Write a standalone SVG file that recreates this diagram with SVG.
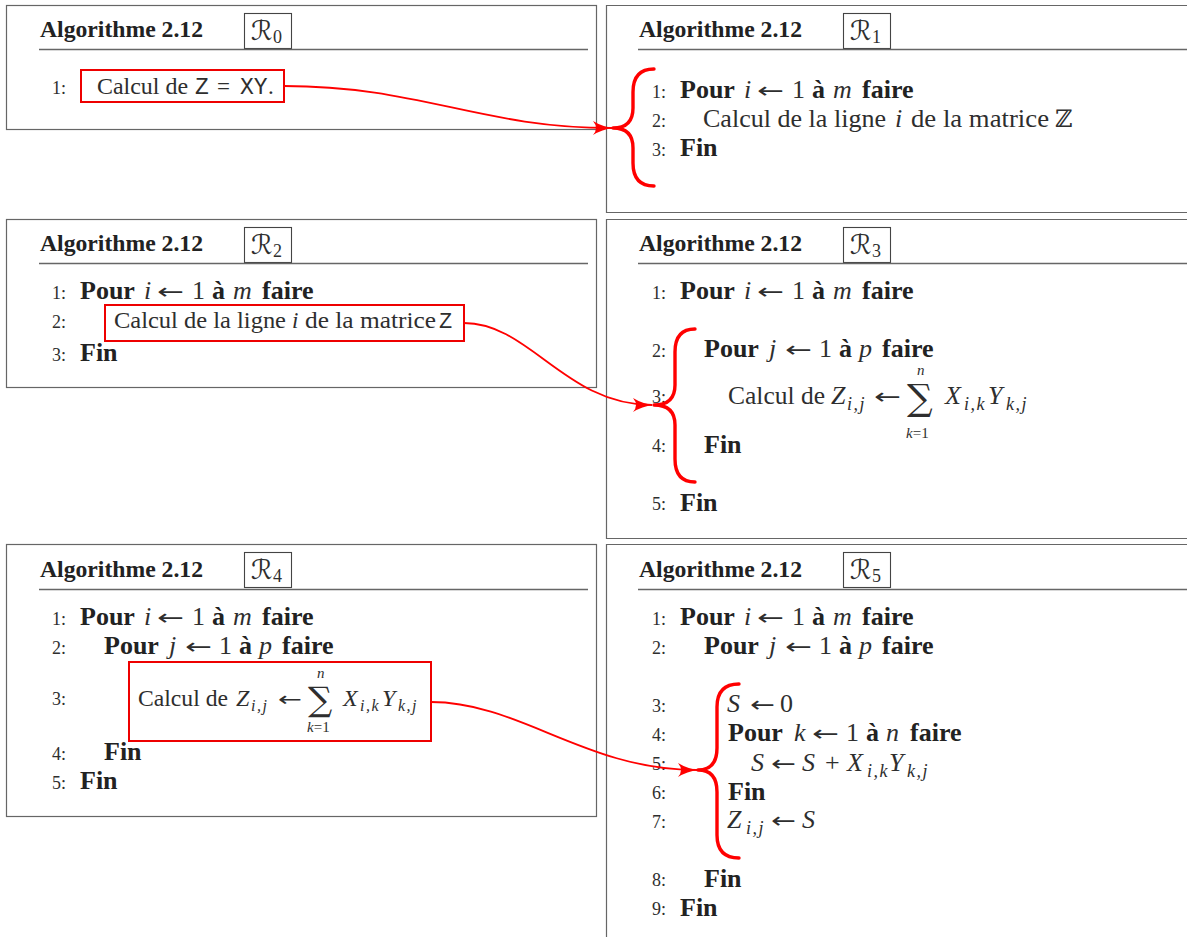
<svg xmlns="http://www.w3.org/2000/svg" width="1187" height="937" viewBox="0 0 1187 937">
<style>
  .frame{fill:none;stroke:#666;stroke-width:1.2}
  .rule{stroke:#666;stroke-width:1.3}
  .rbox{fill:none;stroke:#444;stroke-width:1.1}
  .hl{fill:none;stroke:#e00;stroke-width:2}
  .brace{fill:none;stroke:#f00;stroke-width:3.4;stroke-linecap:round;stroke-linejoin:round}
  .conn{fill:none;stroke:#f00;stroke-width:1.8}
  text{font-family:"Liberation Serif","DejaVu Serif",serif;fill:#2e2e2e;font-size:26px}
  .title{font-size:24px;font-weight:bold;fill:#222}
  .cal{font-family:"DejaVu Serif","DejaVu Sans",serif;font-size:27px}
  .rs{font-size:18px}
  .num{font-size:18px}
  .b{font-weight:bold;fill:#222}
  .i{font-style:italic}
  .sub{font-size:18px;font-style:italic;letter-spacing:1.5px}
  .sub2{font-size:16px;font-style:italic;letter-spacing:1.5px}
  .lim{font-size:15px}
  .tt{font-family:"Liberation Mono",monospace}
  .arr{font-family:"DejaVu Sans",sans-serif;font-size:22px}
  .sum{font-family:"DejaVu Serif",serif;font-size:36px}
</style>
<defs>
  <marker id="ah" viewBox="0 0 20 14" refX="19" refY="7" markerWidth="20" markerHeight="14" markerUnits="userSpaceOnUse" orient="auto">
    <path d="M0,0 Q9,5.5 20,7 Q9,8.5 0,14 Q6,7 0,0 Z" fill="#f00"/>
  </marker>
</defs>

<g id="R0">
  <rect class="frame" x="6.5" y="5.5" width="590" height="124"/>
  <text class="title" x="40" y="37" textLength="163" lengthAdjust="spacingAndGlyphs">Algorithme 2.12</text>
  <rect class="rbox" x="244.5" y="13.5" width="47" height="35"/>
  <text class="cal" x="251" y="40">ℛ</text><text class="rs" x="273" y="43">0</text>
  <line class="rule" x1="39" y1="49.5" x2="588" y2="49.5"/>
  <text class="num" x="52" y="94">1:</text>
  <rect class="hl" x="81" y="70" width="203" height="32"/>
  <text x="97" y="94" style="font-size:23px" textLength="91" lengthAdjust="spacingAndGlyphs">Calcul de</text>
  <text class="tt" x="195" y="94" style="font-size:23px">Z</text>
  <text x="217" y="94" style="font-size:23px">=</text>
  <text class="tt" x="240" y="94" style="font-size:23px">XY</text>
  <text x="268" y="94" style="font-size:23px">.</text>
</g>

<g id="R1">
  <path class="frame" d="M1187,5.5 H606.5 V212.5 H1187"/>
  <text class="title" x="639" y="37" textLength="163" lengthAdjust="spacingAndGlyphs">Algorithme 2.12</text>
  <rect class="rbox" x="843.5" y="13.5" width="47" height="35"/>
  <text class="cal" x="850" y="40">ℛ</text><text class="rs" x="872" y="43">1</text>
  <line class="rule" x1="638" y1="49.5" x2="1187" y2="49.5"/>
  <text class="num" x="652" y="98">1:</text>
  <text class="b" x="680" y="98">Pour</text><text class="i" x="744" y="98">i</text><text class="arr" x="757" y="98" textLength="27" lengthAdjust="spacingAndGlyphs">←</text><text x="792" y="98">1</text><text class="b" x="812" y="98">à</text><text class="i" x="833" y="98">m</text><text class="b" x="862" y="98">faire</text>
  <text class="num" x="652" y="127">2:</text>
  <text x="703" y="127" textLength="183" lengthAdjust="spacingAndGlyphs">Calcul de la ligne</text><text class="i" x="895" y="127">i</text><text x="911" y="127" textLength="138" lengthAdjust="spacingAndGlyphs">de la matrice</text><text x="1055" y="127" style="font-family:'DejaVu Serif',serif;font-size:24px">ℤ</text>
  <text class="num" x="652" y="156">3:</text>
  <text class="b" x="680" y="156">Fin</text>
  <path class="brace" d="M654,69 Q633,69 633,92 L633,108 Q633,128 613,128 Q633,128 633,148 L633,163 Q633,186 654,186"/>
</g>

<g id="R2">
  <rect class="frame" x="6.5" y="219.5" width="590" height="168"/>
  <text class="title" x="40" y="251" textLength="163" lengthAdjust="spacingAndGlyphs">Algorithme 2.12</text>
  <rect class="rbox" x="244.5" y="227.5" width="47" height="35"/>
  <text class="cal" x="251" y="254">ℛ</text><text class="rs" x="273" y="257">2</text>
  <line class="rule" x1="39" y1="263.5" x2="588" y2="263.5"/>
  <text class="num" x="52" y="299">1:</text>
  <text class="b" x="80" y="299">Pour</text><text class="i" x="144" y="299">i</text><text class="arr" x="157" y="299" textLength="27" lengthAdjust="spacingAndGlyphs">←</text><text x="192" y="299">1</text><text class="b" x="212" y="299">à</text><text class="i" x="233" y="299">m</text><text class="b" x="262" y="299">faire</text>
  <text class="num" x="52" y="328">2:</text>
  <rect class="hl" x="105" y="305" width="359" height="36"/>
  <text x="114" y="328" style="font-size:23px" textLength="172" lengthAdjust="spacingAndGlyphs">Calcul de la ligne</text><text class="i" x="292" y="328" style="font-size:23px">i</text><text x="305" y="328" style="font-size:23px" textLength="131" lengthAdjust="spacingAndGlyphs">de la matrice</text><text class="tt" x="439" y="328" style="font-size:22px">Z</text>
  <text class="num" x="52" y="361">3:</text>
  <text class="b" x="80" y="361">Fin</text>
</g>

<g id="R3">
  <path class="frame" d="M1187,219.5 H606.5 V538.5 H1187"/>
  <text class="title" x="639" y="251" textLength="163" lengthAdjust="spacingAndGlyphs">Algorithme 2.12</text>
  <rect class="rbox" x="843.5" y="227.5" width="47" height="35"/>
  <text class="cal" x="850" y="254">ℛ</text><text class="rs" x="872" y="257">3</text>
  <line class="rule" x1="638" y1="263.5" x2="1187" y2="263.5"/>
  <text class="num" x="652" y="299">1:</text>
  <text class="b" x="680" y="299">Pour</text><text class="i" x="744" y="299">i</text><text class="arr" x="757" y="299" textLength="27" lengthAdjust="spacingAndGlyphs">←</text><text x="792" y="299">1</text><text class="b" x="812" y="299">à</text><text class="i" x="833" y="299">m</text><text class="b" x="862" y="299">faire</text>
  <text class="num" x="652" y="357">2:</text>
  <text class="b" x="704" y="357">Pour</text><text class="i" x="769" y="357">j</text><text class="arr" x="785" y="357" textLength="27" lengthAdjust="spacingAndGlyphs">←</text><text x="819" y="357">1</text><text class="b" x="839" y="357">à</text><text class="i" x="859" y="357">p</text><text class="b" x="882" y="357">faire</text>
  <text class="num" x="652" y="403">3:</text>
  <text x="728" y="404" textLength="97" lengthAdjust="spacingAndGlyphs">Calcul de</text><text class="i" x="831" y="404">Z</text><text class="sub" x="847" y="410">i,j</text>
  <text class="arr" x="874" y="404" textLength="27" lengthAdjust="spacingAndGlyphs">←</text>
  <text class="sum" x="907" y="410">∑</text>
  <text class="lim i" x="917" y="375">n</text>
  <text class="lim" x="906" y="438"><tspan class="i">k</tspan>=1</text>
  <text class="i" x="945" y="404">X</text><text class="sub" x="964" y="410">i,k</text><text class="i" x="988" y="404">Y</text><text class="sub" x="1006" y="410">k,j</text>
  <text class="num" x="652" y="452">4:</text>
  <text class="b" x="704" y="453">Fin</text>
  <text class="num" x="652" y="510">5:</text>
  <text class="b" x="680" y="511">Fin</text>
  <path class="brace" d="M695,329 Q675,329 675,352 L675,385 Q675,405 654,405 Q675,405 675,425 L675,459 Q675,482 695,482"/>
</g>

<g id="R4">
  <rect class="frame" x="6.5" y="544.5" width="590" height="272"/>
  <text class="title" x="40" y="577" textLength="163" lengthAdjust="spacingAndGlyphs">Algorithme 2.12</text>
  <rect class="rbox" x="244.5" y="552.5" width="47" height="35"/>
  <text class="cal" x="251" y="579">ℛ</text><text class="rs" x="273" y="582">4</text>
  <line class="rule" x1="39" y1="589.5" x2="588" y2="589.5"/>
  <text class="num" x="52" y="625">1:</text>
  <text class="b" x="80" y="625">Pour</text><text class="i" x="144" y="625">i</text><text class="arr" x="157" y="625" textLength="27" lengthAdjust="spacingAndGlyphs">←</text><text x="192" y="625">1</text><text class="b" x="212" y="625">à</text><text class="i" x="233" y="625">m</text><text class="b" x="262" y="625">faire</text>
  <text class="num" x="52" y="654">2:</text>
  <text class="b" x="104" y="654">Pour</text><text class="i" x="169" y="654">j</text><text class="arr" x="185" y="654" textLength="27" lengthAdjust="spacingAndGlyphs">←</text><text x="219" y="654">1</text><text class="b" x="239" y="654">à</text><text class="i" x="259" y="654">p</text><text class="b" x="282" y="654">faire</text>
  <text class="num" x="52" y="705">3:</text>
  <rect class="hl" x="129" y="662" width="302" height="79"/>
  <text x="138" y="706" style="font-size:24px" textLength="90" lengthAdjust="spacingAndGlyphs">Calcul de</text><text class="i" x="236" y="706" style="font-size:24px">Z</text><text class="sub2" x="251" y="711">i,j</text>
  <text class="arr" x="278" y="706" style="font-size:20px" textLength="24" lengthAdjust="spacingAndGlyphs">←</text>
  <text class="sum" x="308" y="711" style="font-size:34px">∑</text>
  <text class="lim i" x="317" y="678">n</text>
  <text class="lim" x="307" y="732"><tspan class="i">k</tspan>=1</text>
  <text class="i" x="343" y="706" style="font-size:24px">X</text><text class="sub2" x="360" y="711">i,k</text><text class="i" x="382" y="706" style="font-size:24px">Y</text><text class="sub2" x="398" y="711">k,j</text>
  <text class="num" x="52" y="760">4:</text>
  <text class="b" x="104" y="760">Fin</text>
  <text class="num" x="52" y="789">5:</text>
  <text class="b" x="80" y="789">Fin</text>
</g>

<g id="R5">
  <path class="frame" d="M1187,544.5 H606.5 V937"/>
  <text class="title" x="639" y="577" textLength="163" lengthAdjust="spacingAndGlyphs">Algorithme 2.12</text>
  <rect class="rbox" x="843.5" y="552.5" width="47" height="35"/>
  <text class="cal" x="850" y="579">ℛ</text><text class="rs" x="872" y="582">5</text>
  <line class="rule" x1="638" y1="589.5" x2="1187" y2="589.5"/>
  <text class="num" x="652" y="625">1:</text>
  <text class="b" x="680" y="625">Pour</text><text class="i" x="744" y="625">i</text><text class="arr" x="757" y="625" textLength="27" lengthAdjust="spacingAndGlyphs">←</text><text x="792" y="625">1</text><text class="b" x="812" y="625">à</text><text class="i" x="833" y="625">m</text><text class="b" x="862" y="625">faire</text>
  <text class="num" x="652" y="654">2:</text>
  <text class="b" x="704" y="654">Pour</text><text class="i" x="769" y="654">j</text><text class="arr" x="785" y="654" textLength="27" lengthAdjust="spacingAndGlyphs">←</text><text x="819" y="654">1</text><text class="b" x="839" y="654">à</text><text class="i" x="859" y="654">p</text><text class="b" x="882" y="654">faire</text>
  <text class="num" x="652" y="712">3:</text>
  <text class="i" x="727" y="712">S</text><text class="arr" x="750" y="712" textLength="25" lengthAdjust="spacingAndGlyphs">←</text><text x="780" y="712">0</text>
  <text class="num" x="652" y="741">4:</text>
  <text class="b" x="728" y="741">Pour</text><text class="i" x="794" y="741">k</text><text class="arr" x="812" y="741" textLength="27" lengthAdjust="spacingAndGlyphs">←</text><text x="846" y="741">1</text><text class="b" x="866" y="741">à</text><text class="i" x="886" y="741">n</text><text class="b" x="910" y="741">faire</text>
  <text class="num" x="652" y="770">5:</text>
  <text class="i" x="751" y="771">S</text><text class="arr" x="771" y="771" textLength="25" lengthAdjust="spacingAndGlyphs">←</text><text class="i" x="802" y="771">S</text><text x="825" y="771">+</text><text class="i" x="847" y="771">X</text><text class="sub" x="867" y="777">i,k</text><text class="i" x="889" y="771">Y</text><text class="sub" x="907" y="777">k,j</text>
  <text class="num" x="652" y="799">6:</text>
  <text class="b" x="728" y="800">Fin</text>
  <text class="num" x="652" y="828">7:</text>
  <text class="i" x="727" y="828">Z</text><text class="sub" x="746" y="834">i,j</text><text class="arr" x="771" y="828" textLength="25" lengthAdjust="spacingAndGlyphs">←</text><text class="i" x="802" y="828">S</text>
  <text class="num" x="652" y="886">8:</text>
  <text class="b" x="704" y="887">Fin</text>
  <text class="num" x="652" y="915">9:</text>
  <text class="b" x="680" y="916">Fin</text>
  <path class="brace" d="M739,684 Q717,684 717,707 L717,748 Q717,770 698,770 Q717,770 717,792 L717,835 Q717,858 739,858"/>
</g>

<g id="connectors">
  <path class="conn" d="M284,86 C420,86 480,128 612,128" marker-end="url(#ah)"/>
  <path class="conn" d="M464,323 C530,323 565,405 652,405" marker-end="url(#ah)"/>
  <path class="conn" d="M431,702 C520,702 585,770 697,770" marker-end="url(#ah)"/>
</g>
</svg>
